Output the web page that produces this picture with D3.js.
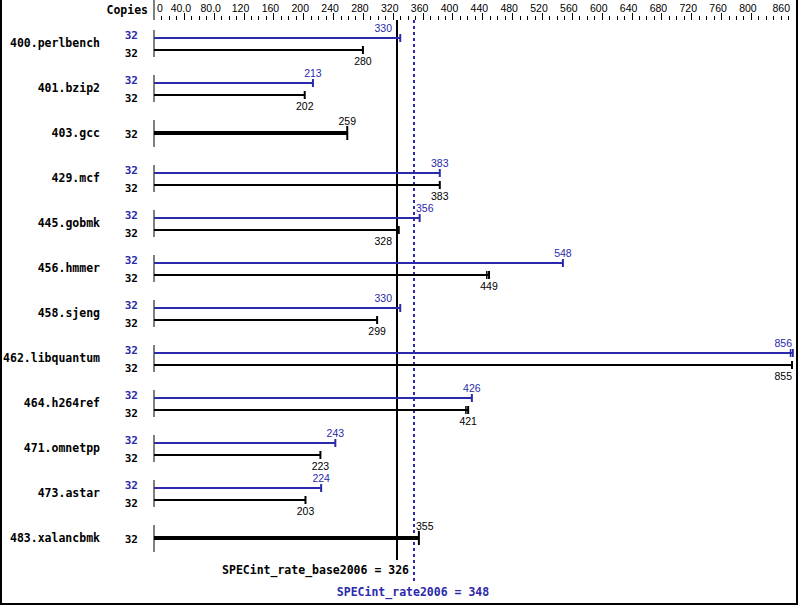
<!DOCTYPE html>
<html><head><meta charset="utf-8">
<script src="https://cdn.jsdelivr.net/npm/d3@7"></script>
<style>
html,body{margin:0;padding:0;background:#fff;}
svg{display:block;}
</style></head>
<body>
<svg id="chart" width="799" height="606"></svg>
<script>
const benchmarks = ["400.perlbench","401.bzip2","403.gcc","429.mcf","445.gobmk","456.hmmer","458.sjeng","462.libquantum","464.h264ref","471.omnetpp","473.astar","483.xalancbmk"];
const copiesBase = [32,32,32,32,32,32,32,32,32,32,32,32];
const copiesPeak = [32,32,null,32,32,32,32,32,32,32,32,null];
const baseValues = [280,202,259,383,328,449,299,855,421,223,203,355];
const peakValues = [330,213,null,383,356,548,330,856,426,243,224,null];
const baseExtraRuns = [null,null,null,null,null,446,null,null,418,null,null,null];
const peakExtraRuns = [null,null,null,null,null,null,null,853,null,null,null,null];
const tickLabelValues = [0,40,80,120,160,200,240,280,320,360,400,440,480,520,560,600,640,680,720,760,800,860];
const tickLabelTexts = ["0","40.0","80.0","120","160","200","240","280","320","360","400","440","480","520","560","600","640","680","720","760","800","860"];
const overallBase = 326;
const overallPeak = 348;
const baseTitle = "SPECint_rate_base2006 = 326";
const peakTitle = "SPECint_rate2006 = 348";

const BLUE = "#2a2aaa";
const MONO = "'DejaVu Sans Mono', monospace";
const SANS = "'Liberation Sans', Arial, sans-serif";

const svg = d3.select("#chart");
const x = d3.scaleLinear().domain([0, 855]).range([154, 792]);
const y = d3.scaleLinear().domain([0, benchmarks.length - 1]).range([43, 538]);

// frame
svg.append("path").attr("d","M1,0 V604 H797 V0").attr("fill","none").attr("stroke","#000").attr("stroke-width",2);

// axis
const axisG = svg.append("g");
axisG.append("line").attr("x1",x(0)).attr("x2",x(0)).attr("y1",0).attr("y2",20).attr("stroke","#000").attr("stroke-width",1);
axisG.append("text").attr("x",148).attr("y",14).attr("text-anchor","end")
  .attr("font-family",MONO).attr("font-weight","bold").attr("font-size","11.5px").text("Copies");
const ticks = d3.range(10, 861, 10);
ticks.forEach(t => {
  const major = (t % 40 === 0 && t <= 800) || t === 860;
  const xx = Math.round(x(t)) + 0.5;
  axisG.append("line").attr("x1",xx).attr("x2",xx).attr("y1",major?13:16).attr("y2",20)
    .attr("stroke","#000").attr("stroke-width",1);
});
tickLabelValues.forEach((v,i) => {
  const t = axisG.append("text").attr("y",12).attr("font-family",SANS).attr("font-size","10.5px").text(tickLabelTexts[i]);
  if (i === 0) t.attr("x", x(v) + 3).attr("text-anchor","start");
  else if (i === tickLabelValues.length - 1) t.attr("x", 790).attr("text-anchor","end");
  else t.attr("x", x(v) - 3).attr("text-anchor","middle");
});

// reference lines
const baseX = Math.round(x(overallBase));
const peakX = Math.round(x(overallPeak));
svg.append("line").attr("x1",baseX).attr("x2",baseX).attr("y1",20).attr("y2",560).attr("stroke","#000").attr("stroke-width",2);
svg.append("line").attr("x1",peakX).attr("x2",peakX).attr("y1",20).attr("y2",584).attr("stroke",BLUE).attr("stroke-width",2).attr("stroke-dasharray","3,3");
svg.append("text").attr("x",baseX+12).attr("y",574).attr("text-anchor","end")
  .attr("font-family",MONO).attr("font-weight","bold").attr("font-size","11.5px").text(baseTitle);
svg.append("text").attr("x",peakX-1).attr("y",596).attr("text-anchor","middle").attr("fill",BLUE)
  .attr("font-family",MONO).attr("font-weight","bold").attr("font-size","11.5px").text(peakTitle);

// label placement avoiding the reference lines
const lines = [baseX, peakX];
function placeLabel(cx, w) {
  const overlaps = (l, r) => lines.some(L => L >= l - 1 && L <= r + 1);
  if (!overlaps(cx - w/2, cx + w/2)) return cx;
  const cands = [];
  lines.forEach(L => { cands.push(L - 5 - w/2); cands.push(L + 2 + w/2); });
  let best = cx, bd = Infinity;
  cands.forEach(c => { if (!overlaps(c - w/2, c + w/2) && Math.abs(c - cx) < bd && c + w/2 <= 793) { bd = Math.abs(c - cx); best = c; } });
  return best;
}
function valueLabel(g, v, yy, color) {
  const t = g.append("text").attr("y",yy).attr("text-anchor","middle").attr("fill",color)
    .attr("font-family",SANS).attr("font-size","10.5px").text(v);
  const w = t.node().getComputedTextLength();
  let cx = x(v);
  if (cx + w/2 > 792) cx = 792 - w/2;
  t.attr("x", placeLabel(cx, w));
}

const rows = svg.append("g");
benchmarks.forEach((name, i) => {
  const cy = y(i);
  const g = rows.append("g");
  g.append("text").attr("x",100).attr("y",cy+4).attr("text-anchor","end")
    .attr("font-family",MONO).attr("font-weight","bold").attr("font-size","11.5px").text(name);
  g.append("line").attr("x1",x(0)).attr("x2",x(0)).attr("y1",cy-13).attr("y2",cy+14).attr("stroke","#000").attr("stroke-width",1);
  if (peakValues[i] == null) {
    // single thick bar (base == peak)
    g.append("text").attr("x",138).attr("y",cy+5).attr("text-anchor","end")
      .attr("font-family",MONO).attr("font-weight","bold").attr("font-size","11px").text(copiesBase[i]);
    const xe = x(baseValues[i]);
    g.append("line").attr("x1",x(0)).attr("x2",xe).attr("y1",cy).attr("y2",cy).attr("stroke","#000").attr("stroke-width",4);
    g.append("line").attr("x1",xe).attr("x2",xe).attr("y1",cy-7).attr("y2",cy+7).attr("stroke","#000").attr("stroke-width",2);
    valueLabel(g, baseValues[i], cy-8, "#000");
  } else {
    const yp = cy - 5, yb = cy + 7;
    g.append("text").attr("x",138).attr("y",cy-4).attr("text-anchor","end").attr("fill",BLUE)
      .attr("font-family",MONO).attr("font-weight","bold").attr("font-size","11px").text(copiesPeak[i]);
    g.append("text").attr("x",138).attr("y",cy+14).attr("text-anchor","end")
      .attr("font-family",MONO).attr("font-weight","bold").attr("font-size","11px").text(copiesBase[i]);
    const xp = x(peakValues[i]), xb = x(baseValues[i]);
    g.append("line").attr("x1",x(0)).attr("x2",xp).attr("y1",yp).attr("y2",yp).attr("stroke",BLUE).attr("stroke-width",2);
    g.append("line").attr("x1",xp).attr("x2",xp).attr("y1",yp-4).attr("y2",yp+4).attr("stroke",BLUE).attr("stroke-width",2);
    if (peakExtraRuns[i] != null) {
      const xr = x(peakExtraRuns[i]);
      g.append("line").attr("x1",xr).attr("x2",xr).attr("y1",yp-4).attr("y2",yp+4).attr("stroke",BLUE).attr("stroke-width",1.5);
    }
    g.append("line").attr("x1",x(0)).attr("x2",xb).attr("y1",yb).attr("y2",yb).attr("stroke","#000").attr("stroke-width",2);
    g.append("line").attr("x1",xb).attr("x2",xb).attr("y1",yb-4).attr("y2",yb+4).attr("stroke","#000").attr("stroke-width",2);
    if (baseExtraRuns[i] != null) {
      const xr = x(baseExtraRuns[i]);
      g.append("line").attr("x1",xr).attr("x2",xr).attr("y1",yb-4).attr("y2",yb+4).attr("stroke","#000").attr("stroke-width",1.5);
    }
    valueLabel(g, peakValues[i], yp-6, BLUE);
    valueLabel(g, baseValues[i], yb+15, "#000");
  }
});
</script>
</body></html>
